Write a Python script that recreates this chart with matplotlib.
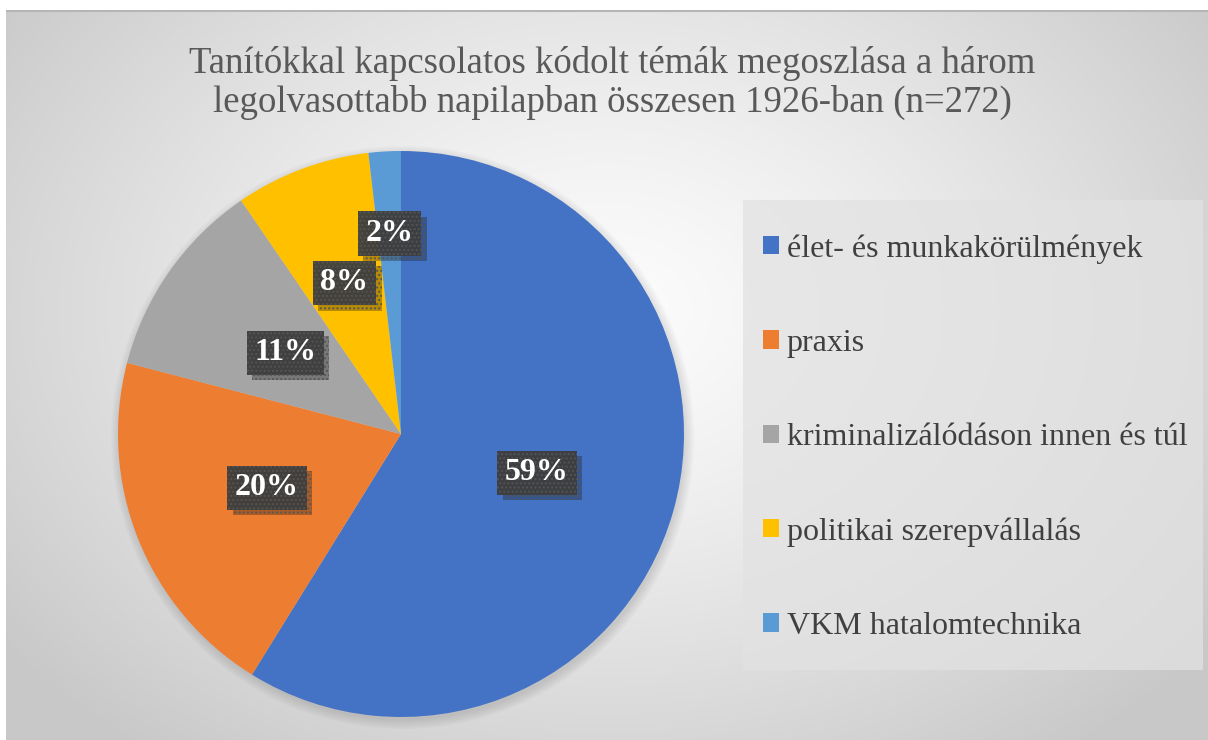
import numpy as np
import matplotlib
matplotlib.use("Agg")
import matplotlib.pyplot as plt
import matplotlib.patheffects as pe
from matplotlib.patches import Circle, Rectangle

categories = ["élet- és munkakörülmények", "praxis", "kriminalizálódáson innen és túl",
              "politikai szerepvállalás", "VKM hatalomtechnika"]
counts = [160, 55, 31, 21, 5]
colors = ["#4472C4", "#ED7D31", "#A5A5A5", "#FFC000", "#5B9BD5"]
title = "Tanítókkal kapcsolatos kódolt témák megoszlása a három\nlegolvasottabb napilapban összesen 1926-ban (n=272)"
label_dist = [0.5, 0.51, 0.5, 0.57, 0.71]

W, H = 1208, 740
SERIF = 'Liberation Serif'
plt.rcParams['font.family'] = SERIF
fig = plt.figure(figsize=(W / 100, H / 100), dpi=100)
fig.patch.set_facecolor("white")

# background gradient
bg = fig.add_axes([6 / W, 0, 1 - 6 / W, 730 / H], zorder=0)
bw, bh = W - 6, 730
yy, xx = np.mgrid[0:bh, 0:bw]
r = np.sqrt(((xx - 600) / 760.0) ** 2 + ((yy - 300) / 560.0) ** 2)
val = 252 - (252 - 200) * np.clip(r, 0, 1) ** 1.3
img = np.dstack([val, val, val]) / 255.0
bg.imshow(img, extent=[0, bw, bh, 0], aspect='auto', interpolation='bilinear')
bg.plot([0, bw], [0.8, 0.8], color="#b5b5b5", lw=1.5)
bg.set_xlim(0, bw)
bg.set_ylim(bh, 0)
bg.axis("off")

# pie
cx, cy, R = 401, 306, 283
ax = fig.add_axes([(cx - R) / W, (cy - R) / H, 2 * R / W, 2 * R / H], zorder=2)
ax.patch.set_alpha(0)
for k in range(6):
    c = Circle((0.006, -0.012), 1.0 + 0.006 * k, color="black", alpha=0.018, lw=0, zorder=0)
    c.set_clip_on(False)
    ax.add_patch(c)
wedges, texts, autotexts = ax.pie(counts, colors=colors, startangle=90, counterclock=False,
                                  autopct='%1.0f%%', pctdistance=0.5,
                                  wedgeprops=dict(linewidth=0, zorder=1))
for w, t, d in zip(wedges, autotexts, label_dist):
    th = np.deg2rad((w.theta1 + w.theta2) / 2)
    t.set_position((d * np.cos(th), d * np.sin(th)))
    t.set_color("white")
    t.set_fontsize(23)
    t.set_fontweight("bold")
    t.set_family(SERIF)
    t.set_zorder(5)
    t.set_bbox(dict(boxstyle="square,pad=0.24", facecolor="#3d3d3d", edgecolor="#555555",
                    linewidth=0, hatch="....", alpha=0.95))
    t.get_bbox_patch().set_path_effects([pe.SimplePatchShadow(offset=(4, -4), alpha=0.3), pe.Normal()])
ax.set_xlim(-1, 1)
ax.set_ylim(-1, 1)
ax.set_aspect("equal")

# title
fig.text(612 / W, 1 - 83 / H, title, ha="center", va="center", fontsize=26.5,
         color="#595959", linespacing=1.12, family=SERIF)

# legend frame
frame = Rectangle((743 / W, 1 - 670 / H), 460 / W, 470 / H, transform=fig.transFigure,
                  facecolor="#e2e2e2", edgecolor="none", alpha=0.75, zorder=1)
fig.patches.append(frame)

# legend
leg = fig.legend(wedges, categories, loc="center left",
                 bbox_to_anchor=(763 / W, 1 - 437.5 / H),
                 frameon=False, prop=dict(family=SERIF, size=23),
                 handlelength=0.5, handleheight=0.5, handletextpad=0.25,
                 labelspacing=2.04, borderpad=0, borderaxespad=0)
for t in leg.get_texts():
    t.set_color("#404040")
leg.set_zorder(3)

fig.savefig("out.png", dpi=100, facecolor=fig.get_facecolor())
